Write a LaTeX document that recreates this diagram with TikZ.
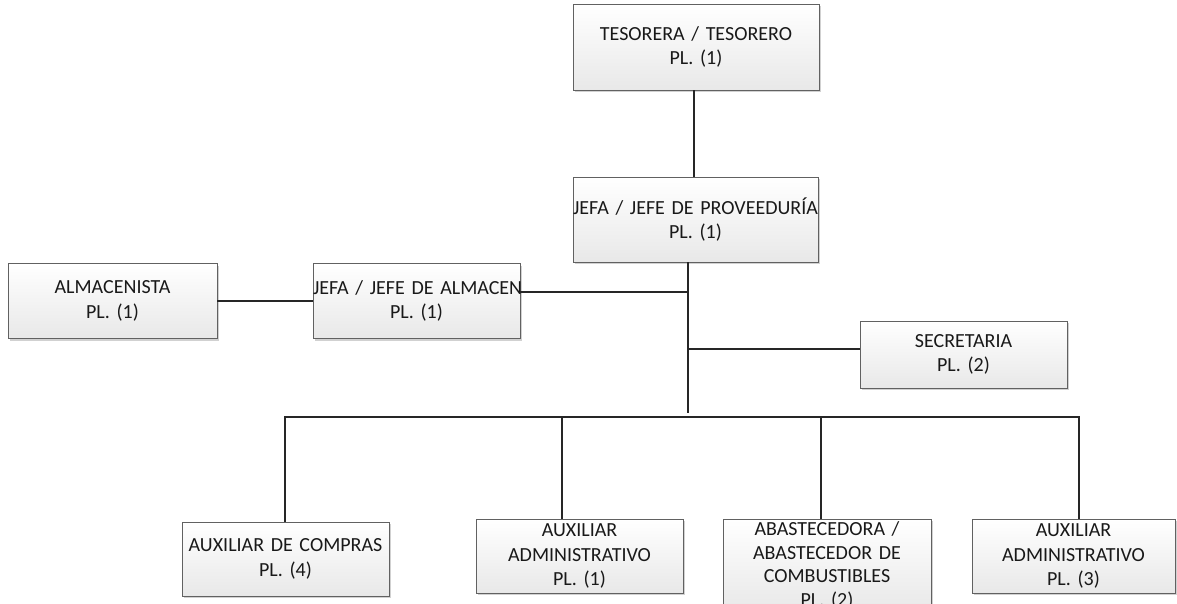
\documentclass[tikz,border=0pt]{standalone}
\usepackage{fontspec}
\setmainfont{Carlito}
\usetikzlibrary{shadows}

\tikzset{
  orgbox/.style={draw=black!62, line width=0.9pt, top color=white, bottom color=black!9,
    inner sep=0pt, align=center, font=\fontsize{20}{24.5}\selectfont, text=black!90,
    drop shadow={shadow xshift=2.2pt, shadow yshift=-2.2pt, fill=black!40, opacity=0.45}},
  link/.style={draw=black!85, line width=1.3pt}
}

\begin{document}
\begin{tikzpicture}[x=1pt, y=-1pt]
  \useasboundingbox (0,0) rectangle (1177,604);
  \clip (0,0) rectangle (1177,604);

  % top of the chart
  \node[orgbox, text width=246pt, minimum height=86pt] (tes) at (696,47)
    {\mbox{TESORERA / TESORERO}\\PL. (1)};
  \node[orgbox, text width=245pt, minimum height=85pt] (prov) at (695.5,219.5)
    {\mbox{JEFA / JEFE DE PROVEEDURÍA}\\PL. (1)};

  % storage branch
  \node[orgbox, text width=209pt, minimum height=75pt] (alm) at (112.5,301)
    {ALMACENISTA\\PL. (1)};
  \node[orgbox, text width=207pt, minimum height=75pt] (jalm) at (416.5,301)
    {\mbox{JEFA / JEFE DE ALMACEN}\\PL. (1)};

  % staff position
  \node[orgbox, text width=207pt, minimum height=67pt] (sec) at (963.5,354.5)
    {SECRETARIA\\PL. (2)};

  % bottom row
  \node[orgbox, text width=207pt, minimum height=74pt] (c1) at (285.5,559)
    {\mbox{AUXILIAR DE COMPRAS}\\PL. (4)};
  \node[orgbox, text width=207pt, minimum height=74pt] (c2) at (579.5,556)
    {AUXILIAR\\ADMINISTRATIVO\\PL. (1)};
  \node[orgbox, text width=208pt, minimum height=93pt,
        font=\fontsize{20}{23.5}\selectfont] (c3) at (827,565.5)
    {\mbox{ABASTECEDORA /}\\\mbox{ABASTECEDOR DE}\\COMBUSTIBLES\\PL. (2)};
  \node[orgbox, text width=203pt, minimum height=74pt] (c4) at (1073.5,556)
    {AUXILIAR\\ADMINISTRATIVO\\PL. (3)};

  % connection points
  \coordinate (trunk) at (688,413);
  \coordinate (jalmJ) at (688,292);
  \coordinate (secJ) at (688,349);
  \coordinate (busL) at (285,417);
  \coordinate (busR) at (1079,417);
  \coordinate (d2) at (562,417);
  \coordinate (d3) at (821,417);

  % connectors
  \draw[link] ([xshift=-2pt]tes.south) -- ([xshift=-1.5pt]prov.north);
  \draw[link] (prov.south -| trunk) -- (trunk);
  \draw[link] (jalm.east |- jalmJ) -- (jalmJ);
  \draw[link] (alm.east) -- (jalm.west);
  \draw[link] (secJ) -- (sec.west |- secJ);
  \draw[link] (busL |- c1.north) -- (busL) -- (busR) -- (busR |- c4.north);
  \draw[link] (d2) -- (d2 |- c2.north);
  \draw[link] (d3) -- (d3 |- c3.north);
\end{tikzpicture}
\end{document}
